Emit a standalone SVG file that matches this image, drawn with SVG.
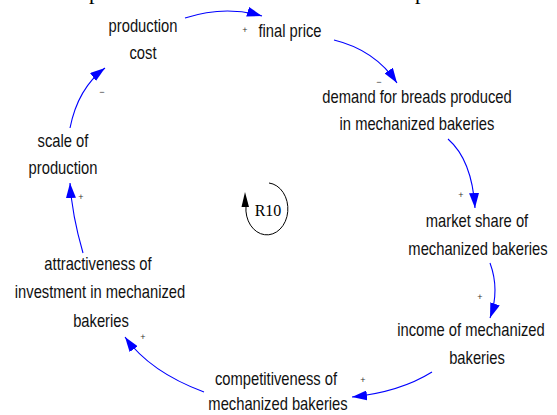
<svg xmlns="http://www.w3.org/2000/svg" width="557" height="415" viewBox="0 0 557 415">
  <style>
    .lbl { font-family: "Liberation Sans", Arial, sans-serif; font-size: 18px; fill: #111; text-anchor: middle; }
    .pol { font-family: "Liberation Sans", Arial, sans-serif; font-size: 9px; fill: #333; text-anchor: middle; }
    .link { fill: none; stroke: #0000ff; stroke-width: 1.1; marker-end: url(#head); }
    .cap { font-family: "Liberation Serif", "Times New Roman", serif; font-size: 22px; fill: #000; }
  </style>
  <defs>
    <marker id="head" viewBox="0 0 15 10" refX="15" refY="5" markerWidth="15" markerHeight="10" markerUnits="userSpaceOnUse" orient="auto">
      <path d="M0,0 L15,5 L0,10 z" fill="#0000ff"/>
    </marker>
  </defs>
  <rect width="557" height="415" fill="#fff"/>

  <!-- caption line above, mostly outside the canvas -->
  <text class="cap" x="89" y="-1">p</text>
  <text class="cap" x="415" y="-1">p</text>

  <g id="connectors">
    <path class="link" d="M185,18 Q225,5 262,16"/>
    <path class="link" d="M334,40 Q375,50 397,83"/>
    <path class="link" d="M448,139 Q472,160 475,208"/>
    <path class="link" d="M490,263 Q500,290 490,318"/>
    <path class="link" d="M432,372 Q400,392 352,397"/>
    <path class="link" d="M204,392 Q150,372 125,337"/>
    <path class="link" d="M83,253 Q72,215 70,183"/>
    <path class="link" d="M70,128 Q78,88 105,68"/>
    <text class="pol" x="245" y="33">+</text>
    <text class="pol" x="379" y="85">−</text>
    <text class="pol" x="461" y="198">+</text>
    <text class="pol" x="480" y="300">+</text>
    <text class="pol" x="363" y="383">+</text>
    <text class="pol" x="143" y="340">+</text>
    <text class="pol" x="81" y="200">+</text>
    <text class="pol" x="102" y="95">−</text>
  </g>

  <!-- labels use a horizontally condensed sans face -->
  <g id="production-cost">
    <text class="lbl" transform="translate(143,32) scale(0.82,1)">production</text>
    <text class="lbl" transform="translate(143,59) scale(0.82,1)">cost</text>
  </g>
  <g id="final-price">
    <text class="lbl" transform="translate(290,37) scale(0.82,1)">final price</text>
  </g>
  <g id="demand">
    <text class="lbl" transform="translate(417,103) scale(0.82,1)">demand for breads produced</text>
    <text class="lbl" transform="translate(417,130) scale(0.82,1)">in mechanized bakeries</text>
  </g>
  <g id="market-share">
    <text class="lbl" transform="translate(477,227) scale(0.82,1)">market share of</text>
    <text class="lbl" transform="translate(478,255) scale(0.82,1)">mechanized bakeries</text>
  </g>
  <g id="income">
    <text class="lbl" transform="translate(471,336) scale(0.82,1)">income of mechanized</text>
    <text class="lbl" transform="translate(477,364) scale(0.82,1)">bakeries</text>
  </g>
  <g id="competitiveness">
    <text class="lbl" transform="translate(276,385) scale(0.82,1)">competitiveness of</text>
    <text class="lbl" transform="translate(278,410) scale(0.82,1)">mechanized bakeries</text>
  </g>
  <g id="attractiveness">
    <text class="lbl" transform="translate(98,270) scale(0.82,1)">attractiveness of</text>
    <text class="lbl" transform="translate(100,298) scale(0.82,1)">investment in mechanized</text>
    <text class="lbl" transform="translate(101,327) scale(0.82,1)">bakeries</text>
  </g>
  <g id="scale-of-production">
    <text class="lbl" transform="translate(63,147) scale(0.82,1)">scale of</text>
    <text class="lbl" transform="translate(63,174) scale(0.82,1)">production</text>
  </g>

  <g id="loop-R10">
    <path d="M269,183 A21,26 0 1 1 246,206" fill="none" stroke="#000" stroke-width="1"/>
    <path d="M245,192 L241.5,207 L249,207 z" fill="#000"/>
    <text x="268" y="216" font-family="Liberation Serif, 'Times New Roman', serif" font-size="16" text-anchor="middle" fill="#000">R10</text>
  </g>
</svg>
